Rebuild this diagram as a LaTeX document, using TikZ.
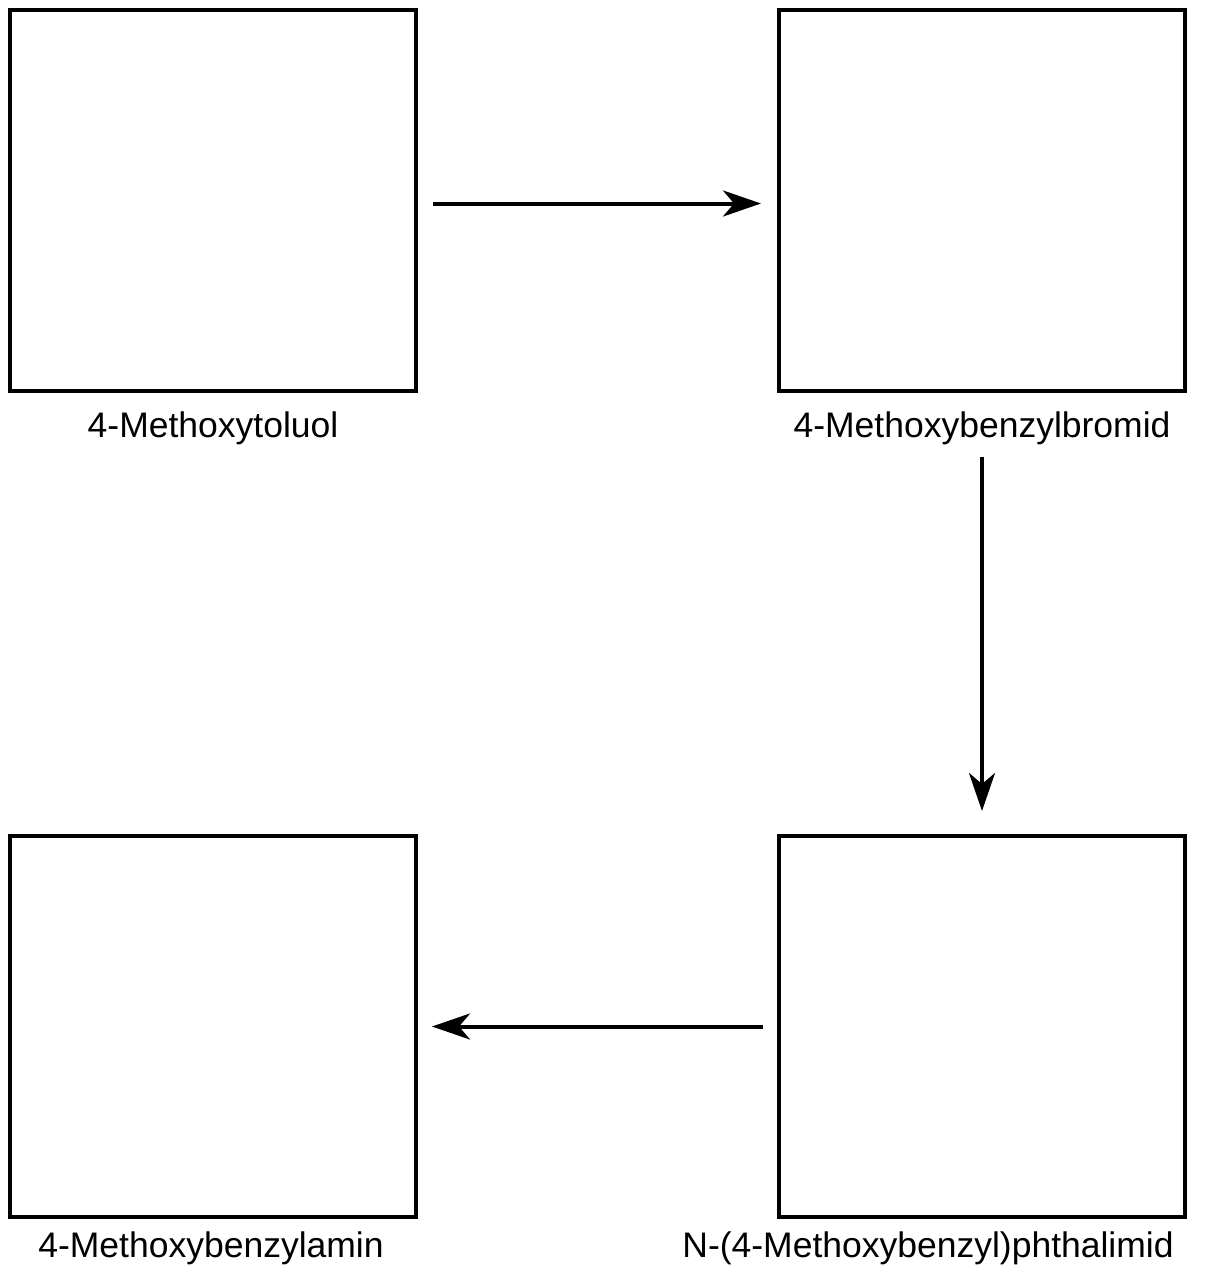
\documentclass[tikz,border=0pt]{standalone}
\usepackage{fontspec}
\setmainfont{Liberation Sans}
\usetikzlibrary{arrows.meta}
\begin{document}
\begin{tikzpicture}[x=1pt,y=-1pt,
  box/.style={draw,line width=4pt,minimum width=406pt,minimum height=381pt,inner sep=0pt},
  lbl/.style={anchor=base,font=\fontsize{35.5}{40}\selectfont,inner sep=0pt},
  arr/.style={line width=4pt,-{Stealth[length=38pt,width=26pt,inset=11pt]}}]
\useasboundingbox (0,0) rectangle (1212,1268);
\node[box] (tl) at (213,200.5) {};
\node[box] (tr) at (982,200.5) {};
\node[box] (bl) at (213,1026.5) {};
\node[box] (br) at (982,1026.5) {};
\node[lbl] (ltl) at (213,437) {4-Methoxytoluol};
\node[lbl] (ltr) at (982,437) {4-Methoxybenzylbromid};
\node[lbl] (lbl) at (211,1257) {4-Methoxybenzylamin};
\node[lbl] (lbr) at (928,1257) {N-(4-Methoxybenzyl)phthalimid};
\draw[arr,shorten <=15pt,shorten >=16pt] ([yshift=-3pt]tl.east) -- ([yshift=-3pt]tr.west);
\draw[arr,shorten <=12pt,shorten >=23pt] (ltr.south) -- (tr.south |- br.north);
\draw[arr,shorten <=14pt,shorten >=14pt] (br.west) -- (bl.east);
\end{tikzpicture}
\end{document}
